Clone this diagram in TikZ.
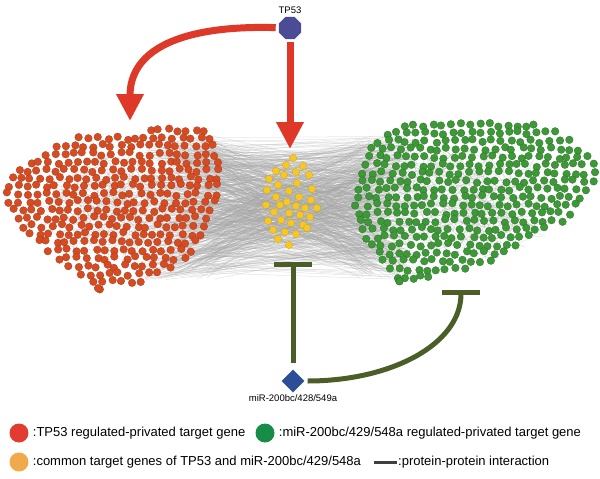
\documentclass[tikz,border=0pt]{standalone}
\usepackage{fontspec}
\setmainfont{Liberation Sans}
\usetikzlibrary{shapes.geometric,positioning,arrows.meta}
\definecolor{tfred}{RGB}{222,56,40}
\definecolor{privred}{RGB}{214,76,34}
\definecolor{privredline}{RGB}{170,55,25}
\definecolor{privgreen}{RGB}{62,152,56}
\definecolor{privgreenline}{RGB}{40,115,40}
\definecolor{common}{RGB}{245,200,38}
\definecolor{commonline}{RGB}{215,165,20}
\definecolor{inhib}{RGB}{75,94,40}
\definecolor{tfblue}{RGB}{75,75,150}
\definecolor{mirblue}{RGB}{44,78,150}
\definecolor{keyred}{RGB}{226,60,48}
\definecolor{keygreen}{RGB}{22,140,72}
\definecolor{keyorange}{RGB}{240,170,75}

\begin{document}
\begin{tikzpicture}[x=1pt,y=-1pt,
	ppi/.style={gray!70,line width=0.25pt,opacity=0.5},
	rednode/.style={fill=privred,draw=privredline,line width=0.3pt},
	greennode/.style={fill=privgreen,draw=privgreenline,line width=0.3pt},
	yellownode/.style={fill=common,draw=commonline,line width=0.3pt},
	activate/.style={tfred,line width=7pt,-{Triangle[width=26pt,length=27pt]}},
	inhibit/.style={inhib,line width=5pt,-{Bar[width=38pt]}},
	smalllabel/.style={font=\fontsize{9.5}{11}\selectfont,inner sep=1pt},
	legdot/.style={circle,minimum size=19pt,inner sep=0pt},
	legtext/.style={font=\fontsize{13}{15}\selectfont,inner sep=0pt,anchor=west}]
\path[fill=white,use as bounding box] (0,0) rectangle (600,479);
\pgfmathsetseed{53}

% interactions: left set -- right set, common set -- both
\foreach \i in {1,...,520}{
	\pgfmathsetmacro\xa{140+75*rnd}\pgfmathsetmacro\ya{135+145*rnd}
	\pgfmathsetmacro\xb{360+60*rnd}\pgfmathsetmacro\yb{135+145*rnd}
	\draw[ppi] (\xa,\ya) -- (\xb,\yb);
}
\foreach \i in {1,...,160}{
	\pgfmathsetmacro\xa{270+45*rnd}\pgfmathsetmacro\ya{160+85*rnd}
	\pgfmathsetmacro\xb{150+65*rnd}\pgfmathsetmacro\yb{140+135*rnd}
	\pgfmathsetmacro\xc{360+60*rnd}\pgfmathsetmacro\yc{140+135*rnd}
	\draw[ppi] (\xb,\yb) -- (\xa,\ya) -- (\xc,\yc);
}
% interactions inside each set
\foreach \cx/\cy/\rx/\ry in {118/208/80/55,470/200/95/60}
	\foreach \i in {1,...,180}{
		\pgfmathsetmacro\aa{360*rnd}\pgfmathsetmacro\ra{sqrt(rnd)}
		\pgfmathsetmacro\ab{360*rnd}\pgfmathsetmacro\rb{sqrt(rnd)}
		\draw[ppi] ({\cx+\rx*\ra*cos(\aa)},{\cy+\ry*\ra*sin(\aa)}) -- ({\cx+\rx*\rb*cos(\ab)},{\cy+\ry*\rb*sin(\ab)});
	}

% TP53 regulated-privated target genes
\foreach \y/\xa/\xb in {130/150/205,138/80/210,146/55/213,154/45/215,162/30/216,170/18/217,
		178/12/218,186/8/218,194/8/216,202/10/213,210/14/209,218/18/206,226/24/203,234/30/200,
		242/38/195,250/48/190,258/58/184,266/68/172,274/80/158,282/92/140,288/100/100}{
	\pgfmathtruncatemacro\n{max(1,round((\xb-\xa)/9.5))}
	\foreach \k in {0,...,\n}{
		\pgfmathsetmacro\px{\xa+\k*(\xb-\xa)/\n+4*rnd-2}
		\pgfmathsetmacro\py{\y+4*rnd-2}
		\path[rednode] (\px,\py) circle[radius=3.8pt];
	}
}
% miR-200bc/429/548a regulated-privated target genes
\foreach \y/\xa/\xb in {125/405/535,133/388/555,141/378/568,149/373/578,157/369/587,165/366/593,
		173/363/595,181/361/592,189/359/585,197/358/580,205/357/575,213/358/570,221/360/562,
		229/363/545,237/367/530,245/372/517,253/378/505,261/384/490,269/390/465,277/396/430,283/400/400}{
	\pgfmathtruncatemacro\n{max(1,round((\xb-\xa)/9.5))}
	\foreach \k in {0,...,\n}{
		\pgfmathsetmacro\px{\xa+\k*(\xb-\xa)/\n+4*rnd-2}
		\pgfmathsetmacro\py{\y+4*rnd-2}
		\path[greennode] (\px,\py) circle[radius=3.8pt];
	}
}
% common target genes
\foreach \x/\y in {293/158,286/165,303/166,276/171,284/175,296/172,309/175,269/179,278/185,
		297/183,312/189,267/190,289/191,276/197,287/202,299/197,311/200,266/205,296/206,305/208,
		317/208,274/212,289/213,300/215,310/217,268/221,281/220,291/223,303/225,273/230,285/232,
		296/234,278/239,289/245,280/205,307/228}
	\path[yellownode] (\x,\y) circle[radius=3.7pt];

% regulators
\node[regular polygon,regular polygon sides=8,minimum size=24pt,inner sep=0pt,fill=tfblue] (tp53) at (290,28) {};
\node[smalllabel,above=2pt of tp53] {TP53};
\node[diamond,minimum width=23pt,minimum height=23pt,inner sep=0pt,fill=mirblue] (mir) at (293,381) {};
\node[smalllabel,below=1pt of mir] {miR-200bc/428/549a};

\coordinate (redset) at (130,121);
\coordinate (commonset) at (290,149);
\coordinate (commonbar) at (293,262);
\coordinate (greenbar) at (461,290);

\draw[activate,shorten <=3pt] (tp53) -- (commonset);
\draw[activate,shorten <=3pt] (tp53) .. controls (180,25) and (130,50) .. (redset);
\draw[inhibit,shorten <=6pt] (mir) -- (commonbar);
\draw[inhibit,shorten <=3pt] (mir) .. controls (390,381) and (461,345) .. (greenbar);

% legend
\node[legdot,fill=keyred] (kred) at (19,433) {};
\node[legtext,right=4pt of kred] {:TP53 regulated-privated target gene};
\node[legdot,fill=keygreen] (kgreen) at (265,433) {};
\node[legtext,right=4pt of kgreen] {:miR-200bc/429/548a regulated-privated target gene};
\node[legdot,fill=keyorange] (korange) at (19,462) {};
\node[legtext,right=4pt of korange] {:common target genes of TP53 and miR-200bc/429/548a};
\coordinate (ka) at (374,462);
\coordinate (kb) at (397,462);
\draw[black!75,line width=3pt] (ka) -- (kb);
\node[legtext,right=1pt of kb] {:protein-protein interaction};
\end{tikzpicture}
\end{document}
